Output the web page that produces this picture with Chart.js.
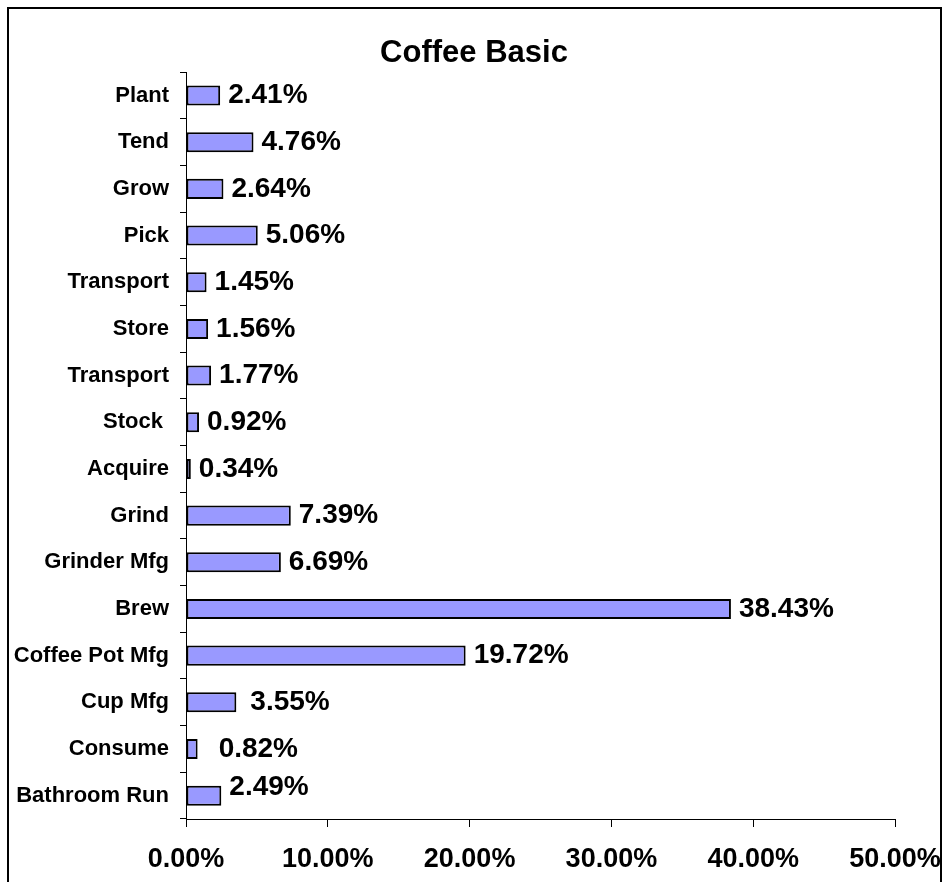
<!DOCTYPE html>
<html>
<head>
<meta charset="utf-8">
<title>Coffee Basic</title>
<script src="https://cdn.jsdelivr.net/npm/chart.js@4/dist/chart.umd.min.js"></script>
<style>
  html, body { margin: 0; padding: 0; background: #fff; overflow: hidden; }
  #wrap { position: relative; width: 942px; height: 882px; }
  #frame {
    position: absolute; left: 7px; top: 7px; width: 931px; height: 900px;
    border: 2px solid #000; border-bottom: none; pointer-events: none;
  }
</style>
</head>
<body>
<div id="wrap">
  <canvas id="coffeeChart" width="942" height="882"></canvas>
  <div id="frame"></div>
</div>
<script>
const steps = [
  'Plant', 'Tend', 'Grow', 'Pick', 'Transport', 'Store', 'Transport', 'Stock ',
  'Acquire', 'Grind', 'Grinder Mfg', 'Brew', 'Coffee Pot Mfg', 'Cup Mfg',
  'Consume', 'Bathroom Run'
];
const shares = [
  2.41, 4.76, 2.64, 5.06, 1.45, 1.56, 1.77, 0.92,
  0.34, 7.39, 6.69, 38.43, 19.72, 3.55, 0.82, 2.49
];
const xTicks = [0, 10, 20, 30, 40, 50];

const FONT = "'Liberation Sans', Arial, sans-serif";

// value text at the end of each bar; a few are nudged off the default spot
const valueLabels = {
  id: 'valueLabels',
  afterDatasetsDraw(chart, args, opts) {
    const ctx = chart.ctx;
    const meta = chart.getDatasetMeta(0);
    ctx.save();
    ctx.font = opts.font;
    ctx.fillStyle = '#000';
    ctx.textAlign = 'left';
    ctx.textBaseline = 'middle';
    meta.data.forEach((bar, i) => {
      const n = opts.nudge[i] || {};
      ctx.fillText(shares[i].toFixed(2) + '%', bar.x + opts.gap + (n.dx || 0), bar.y + (n.dy || 0));
    });
    ctx.restore();
  }
};

new Chart(document.getElementById('coffeeChart'), {
  type: 'bar',
  data: {
    labels: steps,
    datasets: [{
      data: shares,
      backgroundColor: '#9999ff',
      borderColor: '#000',
      borderWidth: 2,
      borderSkipped: false,
      categoryPercentage: 1,
      barPercentage: 0.43
    }]
  },
  options: {
    indexAxis: 'y',
    responsive: false,
    animation: false,
    events: [],
    layout: { padding: { left: 6, right: 0, top: 0, bottom: 0 } },
    plugins: {
      legend: { display: false },
      tooltip: { enabled: false },
      title: {
        display: true,
        text: 'Coffee Basic',
        color: '#000',
        font: { family: FONT, size: 31, weight: 'bold', lineHeight: 1.2 },
        padding: { top: 35, bottom: 0 }
      },
      valueLabels: {
        font: 'bold 28px ' + FONT,
        gap: 8,
        nudge: { 13: { dx: 6 }, 14: { dx: 13 }, 15: { dy: -8 } }
      }
    },
    scales: {
      x: {
        min: xTicks[0],
        max: xTicks[xTicks.length - 1],
        afterBuildTicks: s => { s.ticks = xTicks.map(v => ({ value: v })); },
        // right margin keeps the plot ending at 50%, leaving the last label to run into the frame
        afterFit: s => { s.height = 63; s.paddingLeft = 0; s.paddingRight = 47; },
        grid: { drawOnChartArea: false, drawTicks: true, tickLength: 8, color: '#000' },
        border: { display: true, color: '#000', width: 1 },
        ticks: {
          color: '#000',
          padding: 16,
          maxRotation: 0,
          font: { family: FONT, size: 27, weight: 'bold' },
          callback: v => v.toFixed(2) + '%'
        }
      },
      y: {
        afterFit: s => { s.width = 180; s.paddingTop = 0; s.paddingBottom = 0; },
        grid: { drawOnChartArea: false, drawTicks: true, tickLength: 6, color: '#000', offset: true },
        border: { display: true, color: '#000', width: 1 },
        ticks: {
          color: '#000',
          padding: 11,
          autoSkip: false,
          font: { family: FONT, size: 22, weight: 'bold' }
        }
      }
    }
  },
  plugins: [valueLabels]
});
</script>
</body>
</html>
